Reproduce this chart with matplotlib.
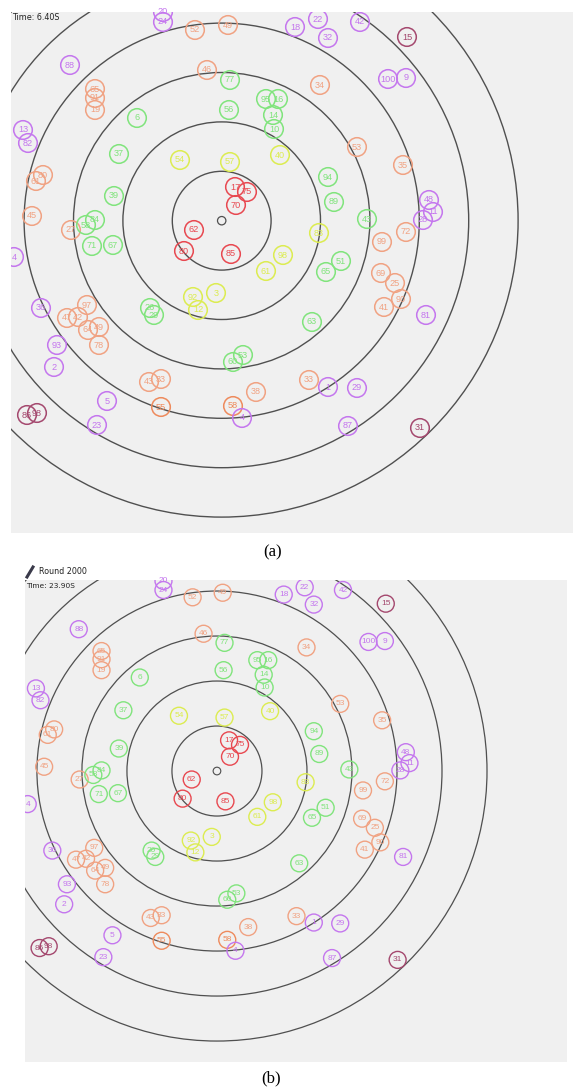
import matplotlib
# Use non-interactive backend
matplotlib.use('Agg')
import matplotlib.pyplot as plt
from matplotlib.patches import Circle
from matplotlib.lines import Line2D

W, H = 573, 1091

# Node labels, positions (pixels of panel a) and colour group
labels = ['20', '24', '52', '49', '18', '22', '32', '42', '15', '100', '9', '88', '46', '77', '34',
          '65', '91', '19', '6', '56', '95', '16', '14', '10', '13', '82', '53', '37', '54', '57',
          '40', '35', '80', '61', '94', '39', '89', '17', '75', '70', '48', '11', '28', '45', '43',
          '27', '58', '84', '71', '67', '62', '72', '83', '99', '80', '85', '98', '4', '51', '61',
          '65', '69', '25', '3', '92', '12', '90', '41', '26', '29', '36', '97', '47', '42', '64',
          '49', '78', '81', '63', '93', '60', '53', '2', '43', '33', '55', '38', '58', '4', '5',
          '86', '98', '23', '33', '1', '29', '87', '31']
node_x = [163, 163, 195, 228, 295, 318, 328, 360, 407, 388, 406, 70, 207, 230, 320,
          95, 95, 95, 137, 229, 266, 278, 273, 274, 23, 28, 357, 119, 180, 230,
          280, 403, 43, 36, 328, 114, 334, 235, 247, 236, 429, 433, 423, 32, 367,
          71, 86, 95, 92, 113, 194, 406, 319, 382, 184, 231, 283, 14, 341, 266,
          326, 381, 395, 216, 193, 198, 401, 384, 150, 154, 41, 87, 67, 78, 88,
          99, 99, 426, 312, 57, 233, 243, 54, 149, 161, 161, 256, 233, 242, 107,
          27, 37, 97, 309, 328, 357, 348, 420]
node_y = [12, 22, 30, 25, 27, 19, 38, 22, 37, 79, 78, 65, 70, 80, 85,
          89, 98, 110, 118, 110, 99, 99, 115, 129, 130, 143, 147, 154, 160, 162,
          155, 165, 175, 181, 177, 196, 202, 187, 192, 205, 200, 212, 220, 216, 219,
          230, 225, 220, 246, 245, 230, 232, 233, 242, 251, 254, 255, 257, 261, 271,
          272, 273, 283, 293, 297, 310, 299, 307, 308, 315, 308, 305, 318, 317, 330,
          327, 345, 315, 322, 345, 362, 355, 367, 382, 379, 407, 392, 406, 418, 401,
          415, 413, 425, 380, 387, 388, 426, 428]
groups = ['p', 'p', 'o', 'o', 'p', 'p', 'p', 'p', 'd', 'p', 'p', 'p', 'o', 'g', 'o',
          'o', 'o', 'o', 'g', 'g', 'g', 'g', 'g', 'g', 'p', 'p', 'o', 'g', 'y', 'y',
          'y', 'o', 'o', 'o', 'g', 'g', 'g', 'r', 'r', 'r', 'p', 'p', 'p', 'o', 'g',
          'o', 'g', 'g', 'g', 'g', 'r', 'o', 'y', 'o', 'r', 'r', 'y', 'p', 'g', 'y',
          'g', 'o', 'o', 'y', 'y', 'y', 'o', 'o', 'g', 'g', 'p', 'o', 'o', 'o', 'o',
          'o', 'o', 'p', 'g', 'p', 'g', 'g', 'p', 'o', 'o', 'O', 'o', 'O', 'p', 'p',
          'd', 'd', 'p', 'o', 'p', 'p', 'p', 'd']

ring_radii = [49.4, 98.8, 148.2, 197.6, 247.0, 296.4]
center = (221.7, 220.7)

group_colors = {'r': '#e84850', 'y': '#dcec50', 'g': '#80e47c', 'o': '#f0a282',
                'O': '#ee8a5c', 'p': '#c476ee', 'd': '#a4486e'}


def draw_panel(ax, scale, time_text, xlim, ylim):
    ax.set_facecolor('#f0f0f0')
    for r in ring_radii:
        ax.add_patch(Circle(center, r, fill=False, ec='#505050', lw=1.0 * scale))
    ax.add_patch(Circle(center, 4.2, fill=False, ec='#505050', lw=0.9 * scale))
    for lab, x, y, g in zip(labels, node_x, node_y, groups):
        c = group_colors[g]
        ax.add_patch(Circle((x, y), 9.3, fill=False, ec=c, lw=1.1 * scale))
        ax.text(x, y, lab, color=c, fontsize=6.6 * scale, ha='center', va='center',
                family='Liberation Sans')
    ax.text(12, 17.5, time_text, fontsize=5.8 * scale, ha='left', va='center', color='#222222')
    ax.set_xlim(*xlim)
    ax.set_ylim(*ylim)
    ax.set_xticks([])
    ax.set_yticks([])
    for s in ax.spines.values():
        s.set_visible(False)


fig = plt.figure(figsize=(W / 100, H / 100), dpi=100)
fig.patch.set_facecolor('white')

ax_a = fig.add_axes([11 / W, 1 - 533 / H, (573 - 11) / W, (533 - 12) / H])
draw_panel(ax_a, 1.0, 'Time: 6.40S', (11, 573), (533, 12))

ax_b = fig.add_axes([25 / W, 1 - 1062 / H, (567 - 25) / W, (1062 - 580) / H])
draw_panel(ax_b, 0.911, 'Time: 23.90S', (11, 605.9), (540.1, 11))

# window title bar of panel b
fig.add_artist(Line2D([27 / W, 33 / W], [1 - 577 / H, 1 - 567 / H], color='#3a3a4a', lw=2.2))
fig.text(39 / W, 1 - 572 / H, 'Round 2000', fontsize=5.8, ha='left', va='center', color='#222222')

fig.text(273 / W, 1 - 552 / H, '(a)', family='Liberation Serif', fontsize=12, ha='center', va='center')
fig.text(271 / W, 1 - 1078 / H, '(b)', family='Liberation Serif', fontsize=12, ha='center', va='center')

fig.savefig('out.png', dpi=100)
plt.close(fig)
